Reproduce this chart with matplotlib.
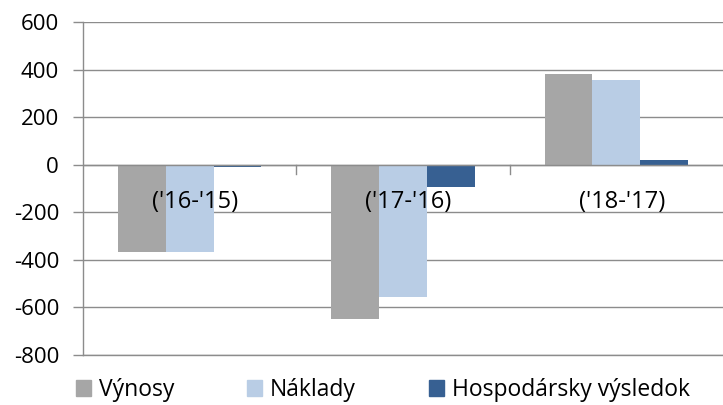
import numpy as np
import matplotlib
matplotlib.use("Agg")
import matplotlib.pyplot as plt
from matplotlib.patches import Patch

plt.rcParams['font.family'] = ['Open Sans', 'DejaVu Sans']
plt.rcParams['axes.unicode_minus'] = False

categories = ["('16-'15)", "('17-'16)", "('18-'17)"]
vynosy = [-365, -648, 380]
naklady = [-365, -555, 355]
hv = [-8, -95, 20]
series_names = ['Výnosy', 'Náklady', 'Hospodársky výsledok']
colors = ['#a6a6a6', '#b9cde5', '#376092']
grid_col = '#8c8c8c'

fig = plt.figure(figsize=(7.23, 4.05), dpi=100)
ax = fig.add_axes([83 / 723, 1 - 355 / 405, 640 / 723, 333 / 405])

x = np.arange(len(categories))
w = 0.224
for i, vals in enumerate([vynosy, naklady, hv]):
    ax.bar(x + (i - 1) * w, vals, width=w, color=colors[i], zorder=3)

ax.set_xlim(-0.5, 2.5)
ax.set_ylim(-800, 600)
ax.set_yticks(np.arange(-800, 601, 200))
ax.yaxis.grid(True, color=grid_col, linewidth=1.0, zorder=0)
ax.tick_params(axis='y', length=7.2, width=1.0, color=grid_col, pad=10, labelsize=16)
ax.set_xticks([])

for s in ['top', 'right']:
    ax.spines[s].set_visible(False)
for s in ['left', 'bottom']:
    ax.spines[s].set_color(grid_col)
    ax.spines[s].set_linewidth(1.0)

# zero axis line with category ticks
ax.axhline(0, color=grid_col, linewidth=1.0, zorder=4)
for b in [0.5, 1.5]:
    ax.plot([b, b], [0, -38], color=grid_col, linewidth=1.0, zorder=4)

for xi, lab in zip(x, categories):
    ax.annotate(lab, (xi, 0), xytext=(4, -27), textcoords='offset points',
                ha='center', va='center', fontsize=17, zorder=5)

handles = [Patch(color=c) for c in colors]
fig.legend(handles, series_names, loc='center', bbox_to_anchor=(383 / 723, 1 - 390 / 405),
           ncol=3, frameon=False, fontsize=16.5, handlelength=0.65, handleheight=0.65,
           handletextpad=0.35, columnspacing=3.2)

fig.savefig('out.png', dpi=100)
